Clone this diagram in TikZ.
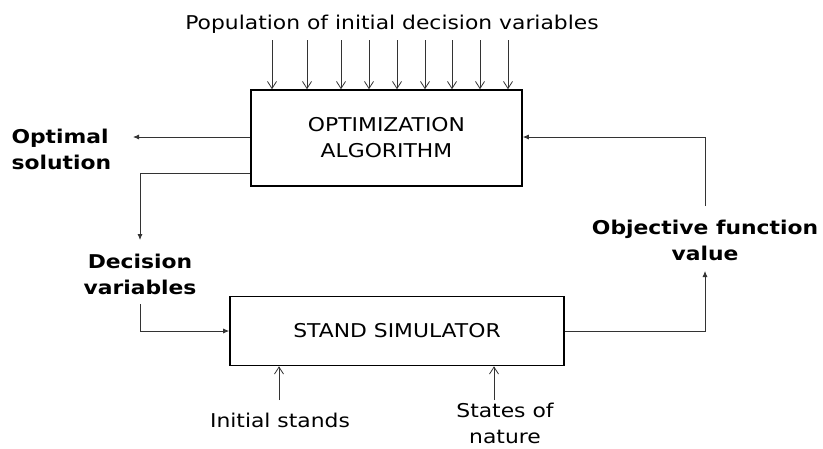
\documentclass[tikz,border=0pt]{standalone}
\usepackage{fontspec}
\setmainfont{DejaVu Sans}[FakeStretch=1.15]
\usetikzlibrary
  {
    arrows.meta,  % extra arrow heads
    positioning,  % place nodes relative to other nodes
    calc,
  }

\begin{document}
\begin{tikzpicture}
    [
      x=1pt, y=-1pt,
      every node/.style=
        {
          font=\fontsize{19}{26}\selectfont,
          align=center,
        },
      block/.style=
        {
          rectangle,
          draw=black,
          line width=1.6pt,
          inner sep=0pt,
        },
      label/.style=
        {
          font=\fontsize{19}{26}\selectfont\bfseries,
        },
      feed/.style=
        {
          -{Straight Barb[length=7pt,width=9pt]},
          draw=black!80,
          line width=0.8pt,
        },
      flow/.style=
        {
          -{Latex[length=6pt,width=5pt]},
          draw=black!80,
          line width=0.8pt,
        },
    ]
    \useasboundingbox (0,0) rectangle (823,448);

    % the two blocks
    \node[block, minimum width=271pt, minimum height=96pt] (optim) at (386.5,138)
      {OPTIMIZATION\\ALGORITHM};
    \node[block, minimum width=334pt, minimum height=69pt] (stand) at (397,331)
      {STAND SIMULATOR};

    % texts
    \node (population) at (392,24) {Population of initial decision variables};
    \node[label, align=left, anchor=west] (optimal)   at (8,149)  {Optimal\\solution};
    \node[label]                          (decision)  at (140,274) {Decision\\variables};
    \node[label]                          (objective) at (705,240) {Objective function\\value};
    \node (initial) at (280,420) {Initial stands};
    \node (states)  at (505,423) {States of\\nature};

    % free ends of the connectors
    \coordinate (optimal end)   at (133,137);
    \coordinate (decision end)  at (140,240);
    \coordinate (decision top)  at (140,304);
    \coordinate (objective end) at (705,271);
    \coordinate (objective top) at (705,206);
    \coordinate (initial top)   at (279,400);
    \coordinate (states top)    at (494,400);

    % population inputs
    \foreach \x [count=\i] in {272,307,341,369,397,425,452,480,508}
      {
        \coordinate (pop \i) at (\x,40);
        \draw[feed] (pop \i) -- (pop \i |- optim.north);
      }

    \draw[flow] (optim.west |- optimal end) -- (optimal end);
    \draw[flow] ([yshift=13pt]optim.south west) -| (decision end);
    \draw[flow] (decision top) |- (stand.west);
    \draw[flow] (stand.east) -| (objective end);
    \draw[flow] (objective top) |- (optim.east |- optimal end);
    \draw[feed] (initial top) -- (initial top |- stand.south);
    \draw[feed] (states top) -- (states top |- stand.south);
  \end{tikzpicture}
\end{document}
